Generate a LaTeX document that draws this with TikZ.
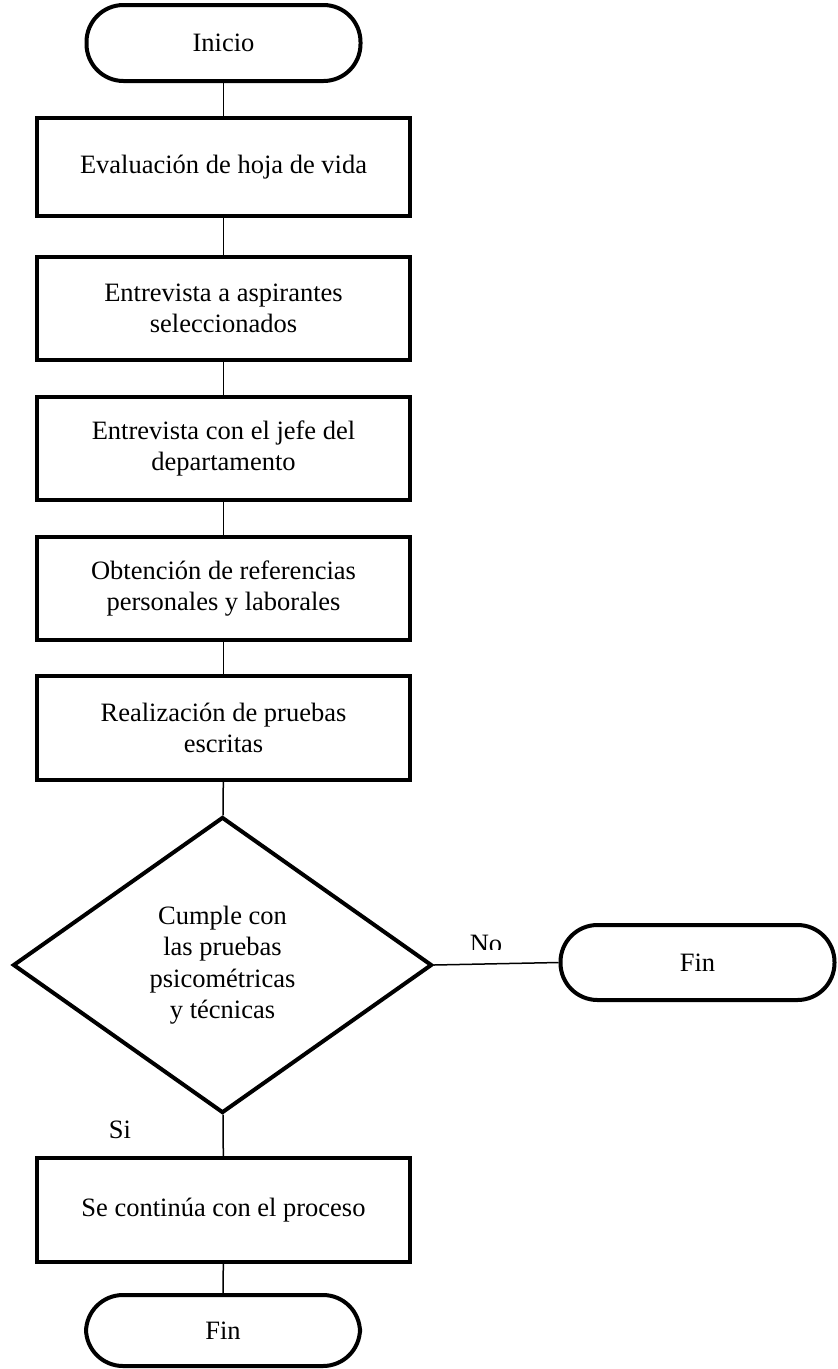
\documentclass[tikz,border=0pt]{standalone}
\usepackage{fontspec}
\setmainfont{Liberation Serif}
\usetikzlibrary{shapes.geometric}

\tikzset{
  base/.style={draw=black, line width=4pt, align=center, inner sep=0pt,
    font=\fontsize{26.5}{31.5}\selectfont},
  terminal/.style={base, rectangle, rounded corners=37pt,
    minimum width=274pt},
  stepbox/.style={base, rectangle, minimum width=373pt},
  decision/.style={base, diamond, minimum width=419pt, minimum height=296pt},
  link/.style={draw=black, line width=1.5pt},
  lbl/.style={font=\fontsize{26.5}{31.5}\selectfont, inner sep=0pt}
}

\begin{document}
\begin{tikzpicture}[x=1pt,y=-1pt]
  \useasboundingbox (0,0) rectangle (838,1369);

  % main column of the flowchart
  \node[terminal, minimum height=76pt] (start) at (223.5,43) {Inicio};
  \node[stepbox, minimum height=98pt] (s1) at (223.5,167) {Evaluación de hoja de vida};
  \node[stepbox, minimum height=103pt] (s2) at (223.5,308.5) {Entrevista a aspirantes\\seleccionados};
  \node[stepbox, minimum height=103pt] (s3) at (223.5,448.5) {Entrevista con el jefe del\\departamento};
  \node[stepbox, minimum height=103pt] (s4) at (223.5,588.5) {Obtención de referencias\\personales y laborales};
  \node[stepbox, minimum height=104pt] (s5) at (223.5,728) {Realización de pruebas\\escritas};
  \node[decision] (dec) at (222.5,965) {Cumple con\\las pruebas\\psicométricas\\y técnicas};
  \node[stepbox, minimum height=104pt] (s6) at (223.5,1210) {Se continúa con el proceso};
  \node[terminal, minimum height=71pt] (end1) at (223,1330.5) {Fin};

  % exit on the "No" branch
  \node[terminal, minimum height=75pt] (end2) at (697.5,962.5) {Fin};

  % connectors
  \draw[link] (start) -- (s1);
  \draw[link] (s1) -- (s2);
  \draw[link] (s2) -- (s3);
  \draw[link] (s3) -- (s4);
  \draw[link] (s4) -- (s5);
  \draw[link] (s5) -- (dec);
  \draw[link] (dec) -- (s6);
  \draw[link] (s6) -- (end1);
  \draw[link] (dec.east) -- (end2.west);

  % branch labels
  \begin{scope}
    \clip (440,920) rectangle (540,949);
    \node[lbl] (no) at (486,944) {No};
  \end{scope}
  \node[lbl] (si) at (120,1130) {Si};
\end{tikzpicture}
\end{document}
